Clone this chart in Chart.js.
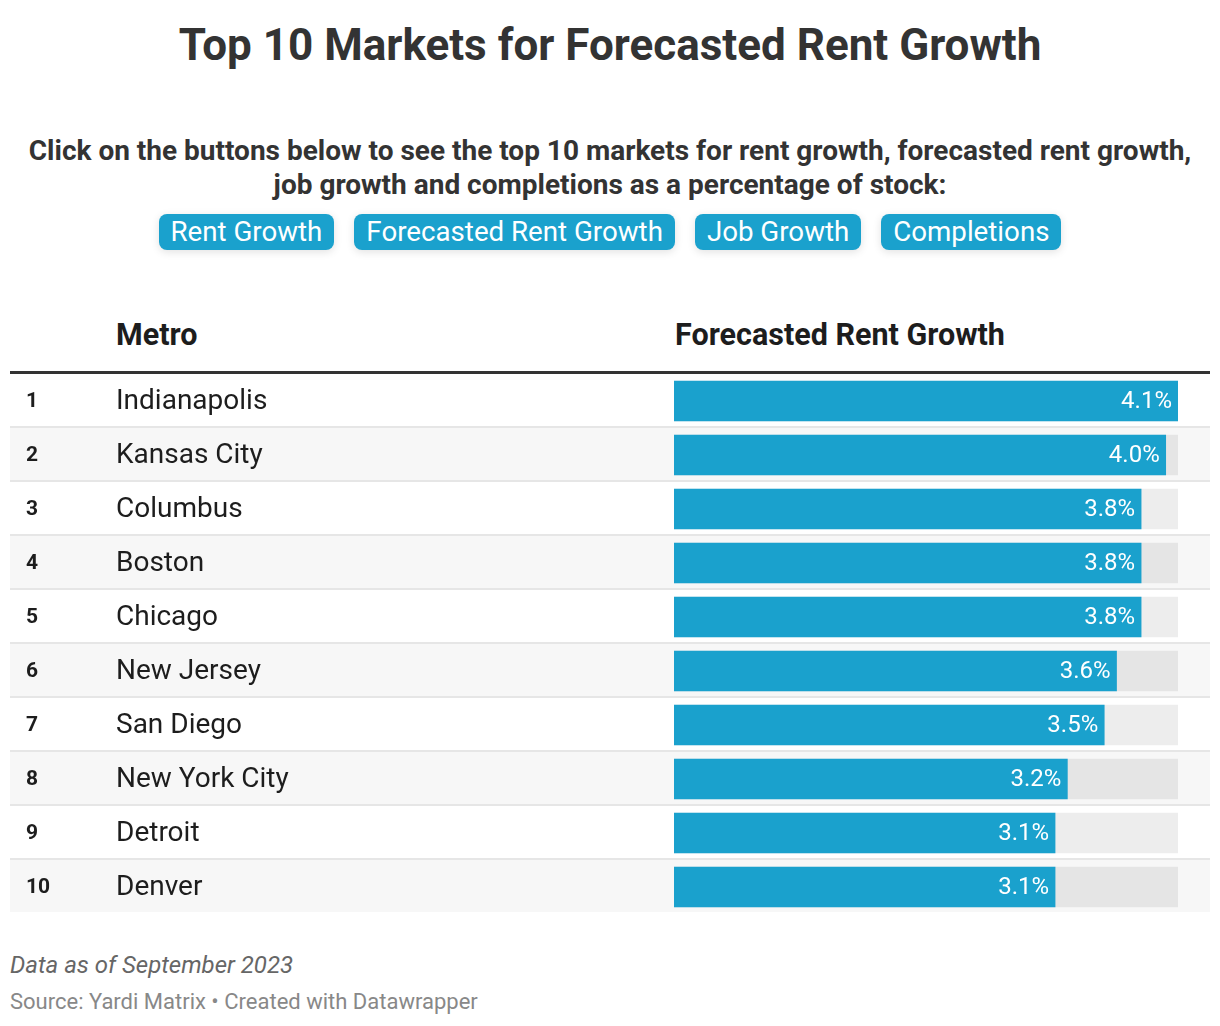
<!DOCTYPE html>
<html lang="en">
<head>
  <meta charset="utf-8" />
  <title>Top 10 Markets for Forecasted Rent Growth</title>
  <script src="https://cdn.jsdelivr.net/npm/chart.js@4.4.1/dist/chart.umd.min.js"></script>
  <style>
    body { margin: 0; background: #fff; font-family: Roboto, "Noto Sans", sans-serif; color: #333; }
    .wrap { position: relative; width: 1220px; height: 1026px; }
    .abs { position: absolute; white-space: nowrap; }
    h1 { position: absolute; left: 0; width: 1220px; top: 22px; margin: 0; text-align: center;
         font-size: 44px; line-height: 46px; font-weight: 700; color: #333; }
    .desc { position: absolute; left: 0; width: 1220px; top: 134px; text-align: center;
            font-size: 28px; line-height: 34px; font-weight: 700; color: #333; }
    .btns { position: absolute; left: 0; width: 1220px; top: 214px; display: flex; justify-content: center; gap: 20px; }
    .btn { background: #1aa1cd; color: #fff; font-size: 27.7px; line-height: 36px; height: 36px;
           padding: 0 12px; border-radius: 8px; box-shadow: 0 2px 8px rgba(0,0,0,0.12); }
    .th { font-size: 30.5px; font-weight: 700; color: #1d1d1d; top: 318px; line-height: 34px; }
    .rule { position: absolute; left: 10px; width: 1200px; top: 371px; height: 3px; background: #333; }
    #tbl { position: absolute; left: 10px; top: 374px; width: 1200px; height: 540px; }
    .note { left: 10px; top: 951px; font-size: 24px; font-style: italic; color: #666; line-height: 28px; }
    .src { left: 10px; top: 989px; font-size: 22px; color: #888; line-height: 26px; }
  </style>
</head>
<body>
<div class="wrap">
  <h1>Top 10 Markets for Forecasted Rent Growth</h1>
  <div class="desc">Click on the buttons below to see the top 10 markets for rent growth, forecasted rent growth,<br>job growth and completions as a percentage of stock:</div>
  <div class="btns">
    <div class="btn">Rent Growth</div>
    <div class="btn">Forecasted Rent Growth</div>
    <div class="btn">Job Growth</div>
    <div class="btn">Completions</div>
  </div>
  <div class="abs th" style="left:116px">Metro</div>
  <div class="abs th" style="left:675px">Forecasted Rent Growth</div>
  <div class="rule"></div>
  <div id="tbl"><canvas id="myChart"></canvas></div>
  <div class="abs note">Data as of September 2023</div>
  <div class="abs src">Source: Yardi Matrix • Created with Datawrapper</div>
</div>

<script>
// table data
const ranks = ['1', '2', '3', '4', '5', '6', '7', '8', '9', '10'];
const metros = ['Indianapolis', 'Kansas City', 'Columbus', 'Boston', 'Chicago',
                'New Jersey', 'San Diego', 'New York City', 'Detroit', 'Denver'];
const growth = [4.1, 4.0, 3.8, 3.8, 3.8, 3.6, 3.5, 3.2, 3.1, 3.1];
const maxGrowth = 4.1;

const ROW_H = 54;

// stripes, separators, rank and metro columns
const tablePlugin = {
  id: 'tableRows',
  beforeDatasetsDraw(chart) {
    const ctx = chart.ctx;
    const y = chart.scales.y;
    ctx.save();
    metros.forEach((m, i) => {
      const cy = y.getPixelForValue(i);
      const top = cy - ROW_H / 2;
      if (i % 2 === 1) {
        ctx.fillStyle = '#f7f7f7';
        ctx.fillRect(0, top, chart.width, ROW_H - 2);
      }
      if (i < metros.length - 1) {
        ctx.fillStyle = '#e6e6e6';
        ctx.fillRect(0, top + ROW_H - 2, chart.width, 2);
      }
      ctx.fillStyle = '#1d1d1d';
      ctx.textBaseline = 'middle';
      ctx.textAlign = 'left';
      ctx.font = 'bold 21px Roboto';
      ctx.fillText(ranks[i], 16, cy + 1);
      ctx.font = '28px Roboto';
      ctx.fillText(m, 106, cy + 1);
    });
    ctx.restore();
  },
  afterDatasetsDraw(chart) {
    const ctx = chart.ctx;
    const meta = chart.getDatasetMeta(0);
    ctx.save();
    ctx.fillStyle = '#fff';
    ctx.font = '24px Roboto';
    ctx.textAlign = 'right';
    ctx.textBaseline = 'middle';
    meta.data.forEach((bar, i) => {
      ctx.fillText(growth[i].toFixed(1) + '%', bar.x - 6, bar.y + 1);
    });
    ctx.restore();
  }
};

window.addEventListener('load', () => {
  const ctx = document.getElementById('myChart').getContext('2d');
  new Chart(ctx, {
    type: 'bar',
    data: {
      labels: metros,
      datasets: [
        {
          label: 'Forecasted Rent Growth',
          data: growth,
          backgroundColor: '#1aa1cd',
          barThickness: 40,
          grouped: false,
          order: 0
        },
        {
          label: 'track',
          data: metros.map(() => maxGrowth),
          backgroundColor: 'rgba(0,0,0,0.07)',
          barThickness: 40,
          grouped: false,
          order: 1
        }
      ]
    },
    options: {
      indexAxis: 'y',
      responsive: true,
      maintainAspectRatio: false,
      animation: false,
      layout: { padding: { left: 664, right: 32, top: 0, bottom: 0 } },
      scales: {
        x: { display: false, min: 0, max: maxGrowth },
        y: { display: false }
      },
      plugins: {
        legend: { display: false },
        tooltip: { enabled: false }
      }
    },
    plugins: [tablePlugin]
  });
});
</script>
</body>
</html>
